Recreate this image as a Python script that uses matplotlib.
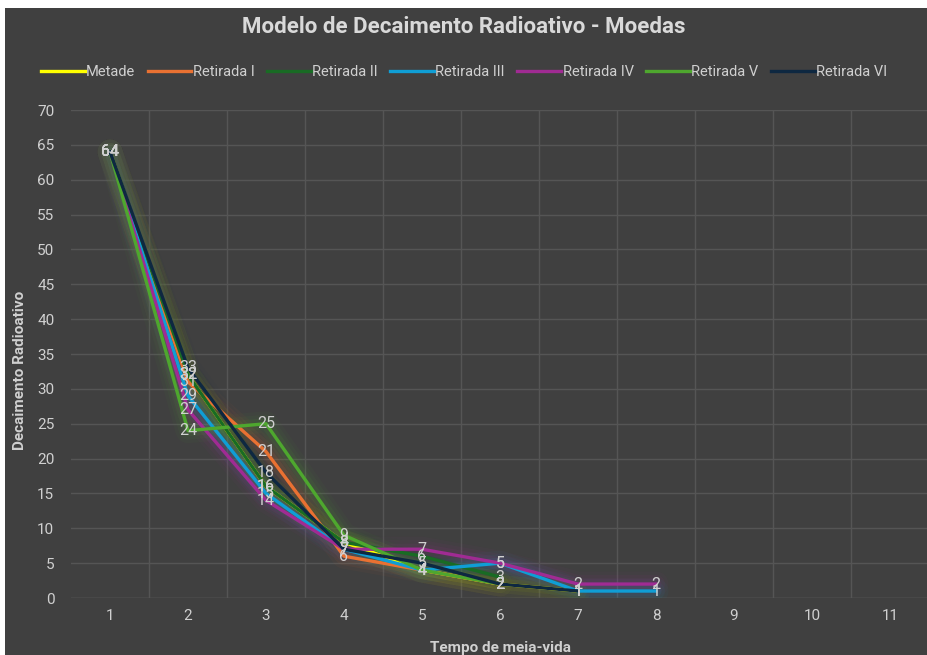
import matplotlib
matplotlib.use("Agg")
import matplotlib.pyplot as plt
from matplotlib.patches import Rectangle
import matplotlib.font_manager as fm

names = {f.name for f in fm.fontManager.ttflist}
base = 'Liberation Sans Narrow' if 'Liberation Sans Narrow' in names else 'Roboto'
plt.rcParams['font.family'] = [base, 'DejaVu Sans']

title = "Modelo de Decaimento Radioativo - Moedas"
x_label = "Tempo de meia-vida"
y_label = "Decaimento Radioativo"
categories = [1, 2, 3, 4, 5, 6, 7, 8, 9, 10, 11]

series_names = ["Metade", "Retirada I", "Retirada II", "Retirada III",
                "Retirada IV", "Retirada V", "Retirada VI"]
metade = [64, 32, 16, 8, 4, 2, 1]
retirada_1 = [64, 31, 21, 6, 4, 2]
retirada_2 = [64, 32, 16, 8, 6, 3]
retirada_3 = [64, 29, 15, 7, 4, 5, 1, 1]
retirada_4 = [64, 27, 14, 7, 7, 5, 2, 2]
retirada_5 = [64, 24, 25, 9, 4, 2]
retirada_6 = [64, 33, 18, 7, 5, 2, 1]
all_series = [metade, retirada_1, retirada_2, retirada_3, retirada_4, retirada_5, retirada_6]
colors = ["#FFFF00", "#E97132", "#196B24", "#0F9ED5", "#A02B93", "#4EA72E", "#0E2841"]

W, H = 928, 655
fig = plt.figure(figsize=(W / 100, H / 100), dpi=100, facecolor="white")
bg = "#404040"
fig.patches.append(Rectangle((5 / W, 0), 1, 1 - 8 / H, transform=fig.transFigure,
                             facecolor=bg, edgecolor="none", zorder=-10))

ax = fig.add_axes([71 / W, 1 - 598 / H, 858 / W, 488 / H])
ax.set_zorder(1)
ax.set_facecolor(bg)
ax.set_xlim(0.5, 11.5)
ax.set_ylim(0, 70)
ax.set_yticks(range(0, 71, 5))
ax.set_xticks(categories)
ax.set_xticks([c + 0.5 for c in categories[:-1]], minor=True)
grid_c = "#555555"
ax.grid(True, which="major", axis="y", color=grid_c, lw=1)
ax.grid(True, which="minor", axis="x", color=grid_c, lw=1)
ax.set_axisbelow(True)
ax.tick_params(which="both", length=0, colors="#d0d0d0", labelsize=11)
ax.tick_params(axis="y", pad=12)
ax.tick_params(axis="x", pad=8)
for s in ax.spines.values():
    s.set_visible(False)
ax.axhline(0, color="#5a5a5a", lw=1, zorder=1)

for name, vals, c in zip(series_names, all_series, colors):
    xs = categories[:len(vals)]
    for w, a in [(18, 0.04), (13, 0.06), (8, 0.09)]:
        ax.plot(xs, vals, color=c, lw=w, alpha=a, solid_capstyle="round",
                solid_joinstyle="round", zorder=2)
for name, vals, c in zip(series_names, all_series, colors):
    xs = categories[:len(vals)]
    ax.plot(xs, vals, color=c, lw=2.4, label=name, zorder=3,
            solid_joinstyle="round")
for vals in all_series:
    for xv, yv in zip(categories, vals):
        ax.text(xv, yv, str(yv), ha="center", va="center", color="#d0d0d0",
                fontsize=11.5, zorder=5)

fig.text(0.5, 1 - 27 / H, title, ha="center", va="center", color="#d9d9d9",
         fontsize=16, fontweight="bold")
fig.legend(loc="center", bbox_to_anchor=(0.5, 1 - 72 / H), ncol=7, frameon=False,
           fontsize=10.5, labelcolor="#d0d0d0", handlelength=3.0,
           handletextpad=0.1, columnspacing=0.85)
fig.text(20 / W, 1 - 370 / H, y_label, rotation=90, ha="center", va="center",
         color="#d0d0d0", fontsize=11, fontweight="bold")
fig.text(500 / W, 1 - 648 / H, x_label, ha="center", va="center",
         color="#d0d0d0", fontsize=11, fontweight="bold")

fig.savefig("out.png", dpi=100, facecolor="white")
